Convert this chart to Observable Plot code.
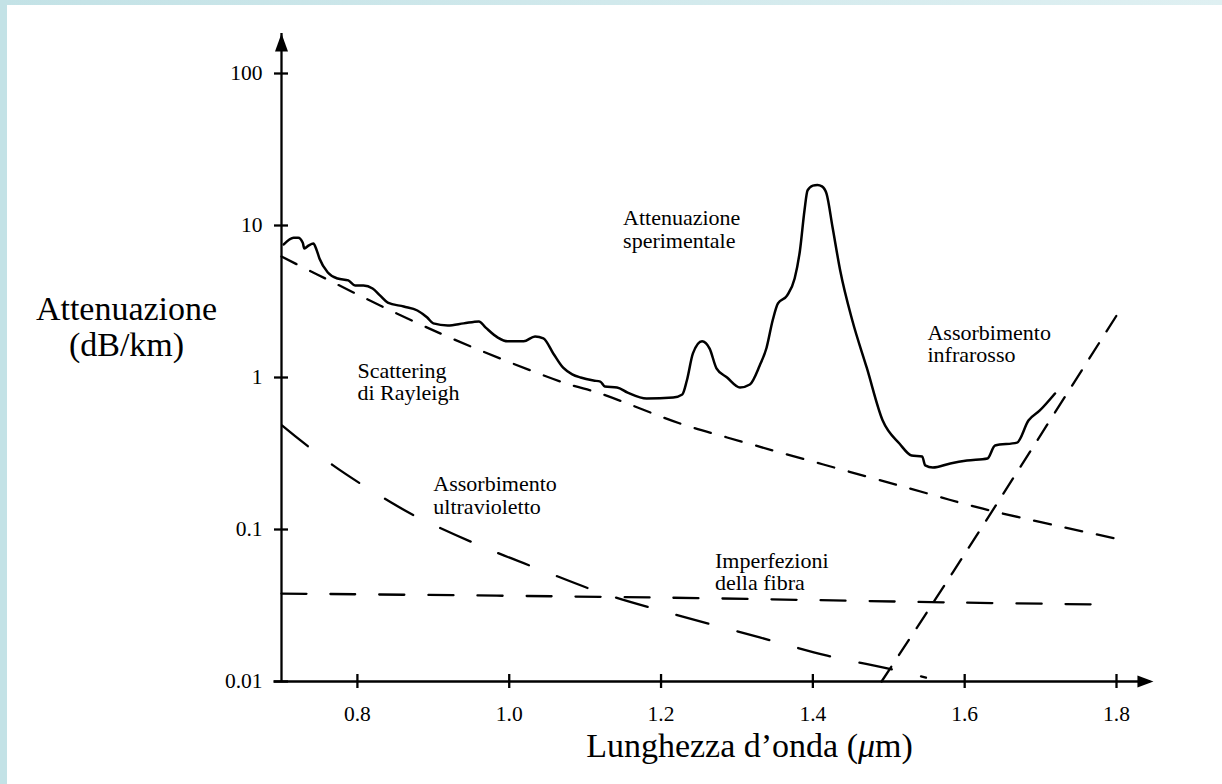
<!DOCTYPE html>
<html>
<head>
<meta charset="utf-8">
<script src="https://cdn.jsdelivr.net/npm/d3@7"></script>
<script src="https://cdn.jsdelivr.net/npm/@observablehq/plot@0.6"></script>
<style>
  html, body { margin: 0; padding: 0; background: #ffffff; overflow: hidden; }
  #page { position: relative; width: 1222px; height: 784px; }
  #bandTop { position: absolute; left: 0; top: 0; width: 1222px; height: 5px; background: linear-gradient(to right, #c3e2e6, #dff0f2); }
  #bandLeft { position: absolute; left: 0; top: 0; width: 7px; height: 784px; background: #c3e2e6; }
  #chart { position: absolute; left: 0; top: 0; }
</style>
</head>
<body>
<div id="page">
  <div id="bandTop"></div>
  <div id="bandLeft"></div>
  <div id="chart"></div>
</div>
<script>
// ---- Data ----
const xTicks = [0.8, 1.0, 1.2, 1.4, 1.6, 1.8];
const yTicks = [0.01, 0.1, 1, 10, 100];

// Experimental attenuation (dB/km) vs wavelength (µm)
const expWavelength = [0.703, 0.716, 0.722, 0.728, 0.730, 0.736, 0.742, 0.746, 0.750, 0.761,
  0.774, 0.788, 0.797, 0.808, 0.820, 0.830, 0.840, 0.861, 0.879, 0.892,
  0.900, 0.919, 0.940, 0.960, 0.969, 0.985, 0.998, 1.019, 1.034, 1.045,
  1.058, 1.071, 1.083, 1.094, 1.111, 1.120, 1.126, 1.142, 1.156, 1.181,
  1.216, 1.228, 1.234, 1.242, 1.254, 1.264, 1.273, 1.287, 1.304, 1.317,
  1.330, 1.339, 1.347, 1.354, 1.366, 1.376, 1.383, 1.389, 1.393, 1.400,
  1.406, 1.412, 1.418, 1.426, 1.436, 1.452, 1.471, 1.492, 1.514, 1.530, 1.544,
  1.548, 1.558, 1.581, 1.603, 1.630, 1.640, 1.669, 1.684, 1.699, 1.719];
const expAttenuation = [7.5, 8.3, 8.3, 7.7, 7.06, 7.4, 7.6, 6.95, 6.07, 4.91,
  4.48, 4.35, 4.03, 4.03, 3.85, 3.46, 3.11, 2.93, 2.76, 2.48,
  2.27, 2.20, 2.27, 2.34, 2.13, 1.83, 1.73, 1.73, 1.86, 1.81,
  1.44, 1.16, 1.05, 1.00, 0.955, 0.94, 0.873, 0.86, 0.796, 0.728,
  0.738, 0.773, 0.955, 1.44, 1.73, 1.55, 1.15, 1.00, 0.86, 0.90,
  1.20, 1.57, 2.37, 3.07, 3.46, 4.48, 6.85, 12.6, 17.0, 18.3,
  18.5, 18.1, 16.2, 9.70, 5.06, 2.37, 1.16, 0.521, 0.368, 0.307, 0.302,
  0.264, 0.256, 0.272, 0.284, 0.293, 0.357, 0.373, 0.521, 0.607, 0.785];

// Rayleigh scattering
const rayWavelength = [0.700, 0.747, 0.906, 1.071, 1.120, 1.225, 1.287, 1.528, 1.624, 1.800];
const rayAttenuation = [6.25, 4.76, 1.98, 0.927, 0.785, 0.498, 0.403, 0.186, 0.137, 0.087];

// Ultraviolet absorption
const uvWavelength = [0.701, 0.768, 0.844, 0.880, 0.961, 1.044, 1.124, 1.209, 1.330, 1.419, 1.505, 1.549];
const uvAttenuation = [0.483, 0.264, 0.151, 0.120, 0.0785, 0.0537, 0.0379, 0.0284, 0.0195, 0.0148, 0.0120, 0.0106];

// Fibre imperfections
const impWavelength = [0.700, 1.191, 1.585, 1.783];
const impAttenuation = [0.0379, 0.0357, 0.0331, 0.0321];

// Infrared absorption
const irWavelength = [1.4905, 1.563, 1.641, 1.808];
const irAttenuation = [0.01, 0.0357, 0.144, 2.95];

// Annotations
const noteTexts = ["Attenuazione\nsperimentale", "Scattering\ndi Rayleigh", "Assorbimento\nultravioletto", "Imperfezioni\ndella fibra", "Assorbimento\ninfrarosso"];
const noteWavelength = [1.150, 0.800, 0.900, 1.271, 1.551];
const noteAttenuation = [7.16, 0.707, 0.127, 0.0397, 1.256];

const yTitle = "Attenuazione\n(dB/km)";
const xTitle = "Lunghezza d\u2019onda (\u03BCm)";

// Axis line extents (data units)
const xAxisSpan = [0.69, 1.845];
const yAxisSpan = [0.01, 183];
const xArrowTip = [1.8487];

// ---- Build ----
const toRows = (xs, ys) => xs.map((x, i) => ({x, y: ys[i]}));
const expData = toRows(expWavelength, expAttenuation);
const rayData = toRows(rayWavelength, rayAttenuation);
const uvData = toRows(uvWavelength, uvAttenuation);
const impData = toRows(impWavelength, impAttenuation);
const irData = toRows(irWavelength, irAttenuation);
const notes = noteTexts.map((t, i) => ({t, x: noteWavelength[i], y: noteAttenuation[i]}));

const arrowUp = {draw(ctx) { ctx.moveTo(0, 0); ctx.lineTo(-6.5, 18); ctx.lineTo(6.5, 18); ctx.closePath(); }};
const arrowRight = {draw(ctx) { ctx.moveTo(0, 0); ctx.lineTo(-6, 16); ctx.lineTo(6, 16); ctx.closePath(); }};

const SW = 2.3;

const chart = Plot.plot({
  width: 1222,
  height: 784,
  marginLeft: 281,
  marginRight: 106,
  marginTop: 73,
  marginBottom: 103,
  style: {fontFamily: "'Liberation Serif', 'Times New Roman', serif", fontSize: "22px", background: "transparent", color: "black", overflow: "visible"},
  x: {domain: [0.7, 1.8]},
  y: {type: "log", domain: [0.01, 100]},
  marks: [
    // axis lines
    Plot.ruleY([yAxisSpan[0]], {x1: xAxisSpan[0], x2: xAxisSpan[1], strokeWidth: SW, stroke: "black"}),
    Plot.ruleX([0.7], {y1: yAxisSpan[0], y2: yAxisSpan[1], strokeWidth: SW, stroke: "black"}),
    Plot.dot([yAxisSpan[1]], {x: 0.7, y: d => d, symbol: arrowUp, fill: "black", stroke: "none"}),
    Plot.dot(xArrowTip, {x: d => d, y: yAxisSpan[0], symbol: arrowRight, rotate: 90, fill: "black", stroke: "none"}),
    // axes (ticks cross the axis line)
    Plot.axisY(yTicks, {tickSize: 14, dx: 7, tickPadding: 12, tickFormat: d => String(d), fontSize: 21.5, strokeWidth: SW, label: null}),
    Plot.axisX(xTicks, {tickSize: 14, dy: -7, tickPadding: 17, tickFormat: d3.format(".1f"), fontSize: 21.5, strokeWidth: SW, label: null}),
    // curves
    Plot.line(rayData, {x: "x", y: "y", curve: "catmull-rom", stroke: "black", strokeWidth: SW, strokeDasharray: "17,15"}),
    Plot.line(uvData, {x: "x", y: "y", curve: "catmull-rom", stroke: "black", strokeWidth: SW, strokeDasharray: "33,30"}),
    Plot.line(impData, {x: "x", y: "y", curve: "catmull-rom", stroke: "black", strokeWidth: SW, strokeDasharray: "25,24"}),
    Plot.line(irData, {x: "x", y: "y", curve: "catmull-rom", stroke: "black", strokeWidth: SW, strokeDasharray: "18,14"}),
    Plot.line(expData, {x: "x", y: "y", curve: "monotone-x", stroke: "black", strokeWidth: 2.5}),
    // annotations
    Plot.text(notes, {x: "x", y: "y", text: "t", textAnchor: "start", lineAnchor: "bottom", lineHeight: 1.02, fontSize: 22, fill: "black"}),
    // axis titles
    Plot.text([yTitle], {text: d => d, frameAnchor: "left", dx: -155, dy: -22, textAnchor: "middle", lineAnchor: "bottom", lineHeight: 1.03, fontSize: 34, fill: "black"}),
    Plot.text([xTitle], {text: d => d, frameAnchor: "bottom", dx: 50.5, dy: 75, textAnchor: "middle", lineAnchor: "bottom", fontSize: 34, fill: "black"})
  ]
});

// Italic µ in the x-axis title, as in the reference
d3.select(chart).selectAll("text").filter(function () { return this.textContent === xTitle; }).each(function () {
  const el = this;
  while (el.firstChild) el.removeChild(el.firstChild);
  el.appendChild(document.createTextNode("Lunghezza d\u2019onda ("));
  const mu = document.createElementNS("http://www.w3.org/2000/svg", "tspan");
  mu.setAttribute("font-style", "italic");
  mu.textContent = "\u03BC";
  el.appendChild(mu);
  el.appendChild(document.createTextNode("m)"));
});

document.getElementById("chart").appendChild(chart);
</script>
</body>
</html>
